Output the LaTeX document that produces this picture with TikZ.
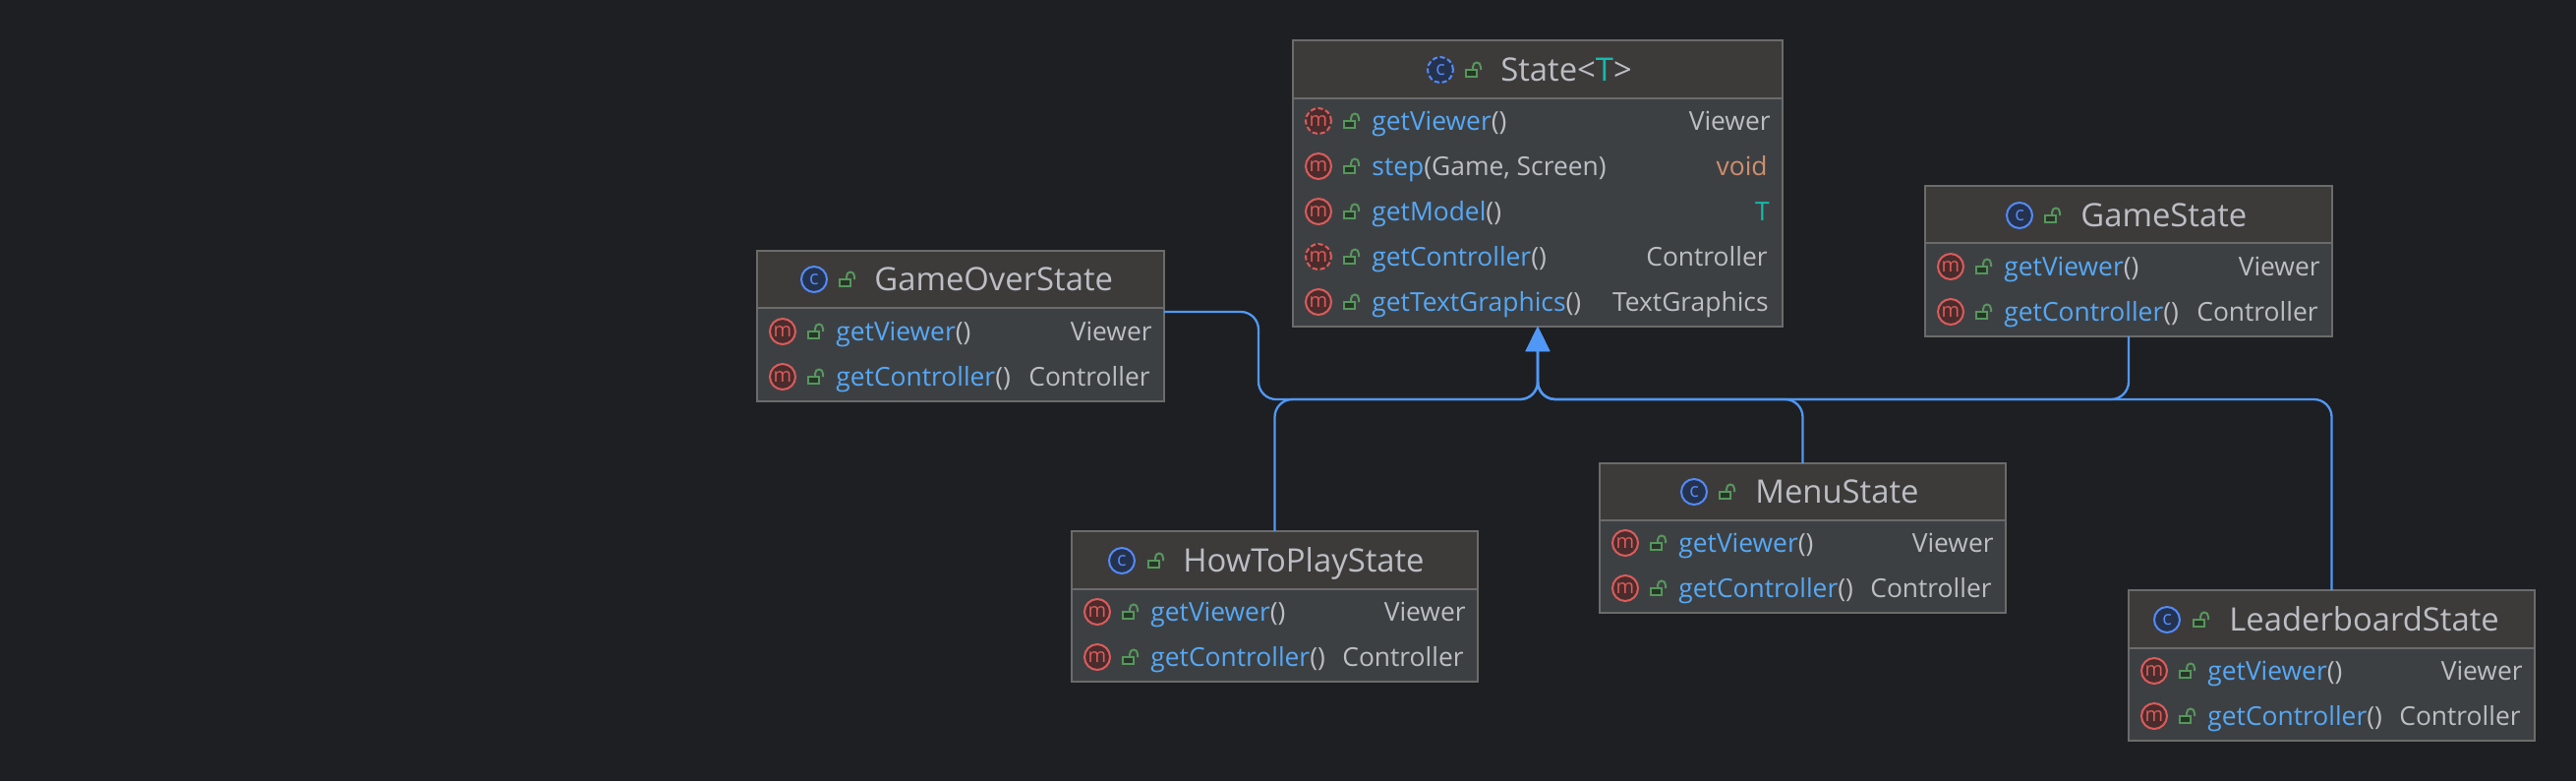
\documentclass[tikz,border=0pt]{standalone}
\usepackage{fontspec}
\setmainfont{Open Sans}
\usetikzlibrary{arrows.meta}
\definecolor{bgc}{HTML}{1E1F22}
\definecolor{headc}{HTML}{3C3B3A}
\definecolor{bodyc}{HTML}{3D4043}
\definecolor{edgec}{HTML}{6B6B6B}
\definecolor{linkc}{HTML}{5098F5}
\definecolor{textc}{HTML}{BCBEC4}
\definecolor{methc}{HTML}{56A8F5}
\definecolor{voidc}{HTML}{CF8E6D}
\definecolor{tealc}{HTML}{16BAAC}
\definecolor{cfill}{HTML}{25324D}
\definecolor{cedge}{HTML}{548AF7}
\definecolor{mfill}{HTML}{4A2C2C}
\definecolor{medge}{HTML}{DB5C5C}
\definecolor{lfill}{HTML}{253627}
\definecolor{ledge}{HTML}{57965C}
\newcommand{\mn}[1]{\textcolor{methc}{#1}}
\newcommand{\pa}[1]{\textcolor{textc}{#1}}
\tikzset{
  x=0.5pt,y=-0.5pt,
  classbody/.style={rectangle,draw=edgec,fill=bodyc,line width=1pt,inner sep=0pt,outer sep=0pt},
  classhead/.style={rectangle,draw=edgec,fill=headc,line width=1pt,inner sep=0pt,outer sep=0pt},
  titletext/.style={anchor=base west,inner sep=0pt,text=textc,font=\fontsize{16.4}{18}\selectfont},
  membertext/.style={anchor=base west,inner sep=0pt,font=\fontsize{13.2}{15}\selectfont},
  rettext/.style={anchor=base east,inner sep=0pt,text=textc,font=\fontsize{13.2}{15}\selectfont},
  cicon/.style={circle,draw=cedge,fill=cfill,line width=1pt,minimum size=13pt,inner sep=0pt,text=cedge,font=\fontsize{10}{10}\selectfont},
  micon/.style={circle,draw=medge,fill=mfill,line width=1pt,minimum size=13pt,inner sep=0pt,text=medge,font=\fontsize{10}{10}\selectfont},
  abstracticon/.style={dash pattern=on 2.6pt off 1.3pt},
  lockbody/.style={draw=ledge,fill=lfill,line width=1pt},
  lockarc/.style={draw=ledge,line width=1pt},
  link/.style={draw=linkc,line width=1.15pt,rounded corners=9pt,-{Triangle[length=12.5pt,width=12pt]}}
}
% \lockat{x}{y}
\newcommand{\lockat}[2]{%
  \begin{scope}[shift={(#1,#2)}]
    \path[lockarc] (-1,0) -- (-1,-3) .. controls (-1,-9) and (7,-9) .. (7,-3) -- (7,0);
    \path[lockbody] (-8,0) rectangle (3,7);
  \end{scope}}
% \umlbox{id}{x1}{y1}{x2}{yline}{y2}
\newcommand{\umlbox}[6]{%
  \node[classbody,minimum width={(#4-#2)*0.5pt},minimum height={(#6-#3)*0.5pt}] (#1) at ({(#2+#4)/2},{(#3+#6)/2}) {};
  \node[classhead,minimum width={(#4-#2)*0.5pt},minimum height={(#5-#3)*0.5pt}] (#1-head) at ({(#2+#4)/2},{(#3+#5)/2}) {};}
% \umlhead{id}{iconx}{lockx}{textx}{y}{iconstyle}{text}
\newcommand{\umlhead}[7]{%
  \node[cicon,#6] (#1-icon) at (#2,#5) {c};
  \lockat{#3}{#5}
  \node[titletext] (#1-title) at (#4,#5+11) {#7};}
% \umlrow{id}{x1}{x2}{y}{iconstyle}{name}{ret}{retoffset}
\newcommand{\umlrow}[8]{%
  \node[micon,#5] (#1-m) at (#2+26,#4) {m};
  \lockat{#2+60}{#4}
  \node[membertext] (#1-name) at (#2+80,#4+9.5) {#6};
  \node[rettext] (#1-ret) at (#3-#8,#4+9.5) {#7};}
\begin{document}
\begin{tikzpicture}
\path[use as bounding box,fill=bgc] (0,0) rectangle (2620,794);

% State
\umlbox{state}{1315}{41}{1813}{100}{332}
\umlhead{state}{1465}{1499}{1526}{71}{abstracticon}{\pa{State<}\textcolor{tealc}{T}\pa{>}}
\umlrow{state-a}{1315}{1813}{123}{abstracticon}{\mn{getViewer}\pa{()}}{Viewer}{12}
\umlrow{state-b}{1315}{1813}{169}{}{\mn{step}\pa{(Game, Screen)}}{\textcolor{voidc}{void}}{15}
\umlrow{state-c}{1315}{1813}{215}{}{\mn{getModel}\pa{()}}{\textcolor{tealc}{T}}{13}
\umlrow{state-d}{1315}{1813}{261}{abstracticon}{\mn{getController}\pa{()}}{Controller}{15}
\umlrow{state-e}{1315}{1813}{307}{}{\mn{getTextGraphics}\pa{()}}{TextGraphics}{14}

% GameOverState
\umlbox{over}{770}{255}{1184}{313}{408}
\umlhead{over}{828}{862}{889}{284}{}{GameOverState}
\umlrow{over-a}{770}{1184}{337}{}{\mn{getViewer}\pa{()}}{Viewer}{12}
\umlrow{over-b}{770}{1184}{383}{}{\mn{getController}\pa{()}}{Controller}{14}

% GameState
\umlbox{game}{1958}{189}{2372}{247}{342}
\umlhead{game}{2054}{2088}{2116}{219}{}{GameState}
\umlrow{game-a}{1958}{2372}{271}{}{\mn{getViewer}\pa{()}}{Viewer}{12}
\umlrow{game-b}{1958}{2372}{317}{}{\mn{getController}\pa{()}}{Controller}{14}

% MenuState
\umlbox{menu}{1627}{471}{2040}{529}{623}
\umlhead{menu}{1723}{1757}{1785}{500}{}{MenuState}
\umlrow{menu-a}{1627}{2040}{552}{}{\mn{getViewer}\pa{()}}{Viewer}{12}
\umlrow{menu-b}{1627}{2040}{598}{}{\mn{getController}\pa{()}}{Controller}{14}

% HowToPlayState
\umlbox{howto}{1090}{540}{1503}{599}{693}
\umlhead{howto}{1141}{1176}{1203}{570}{}{HowToPlayState}
\umlrow{howto-a}{1090}{1503}{622}{}{\mn{getViewer}\pa{()}}{Viewer}{12}
\umlrow{howto-b}{1090}{1503}{668}{}{\mn{getController}\pa{()}}{Controller}{14}

% LeaderboardState
\umlbox{board}{2165}{600}{2578}{659}{753}
\umlhead{board}{2204}{2239}{2267}{630}{}{LeaderboardState}
\umlrow{board-a}{2165}{2578}{682}{}{\mn{getViewer}\pa{()}}{Viewer}{12}
\umlrow{board-b}{2165}{2578}{728}{}{\mn{getController}\pa{()}}{Controller}{14}

% Connectors
\coordinate (bus) at (1564,406);
\coordinate (overlane) at (1280,406);
\draw[link] ([yshift=-2pt]over-head.south east) -| (overlane) -- (bus) -- (state.south);
\draw[link] (howto.north) |- (bus) -- (state.south);
\draw[link] (menu.north) |- (bus) -- (state.south);
\draw[link] (game.south) |- (bus) -- (state.south);
\draw[link] (board.north) |- (bus) -- (state.south);
\end{tikzpicture}
\end{document}
